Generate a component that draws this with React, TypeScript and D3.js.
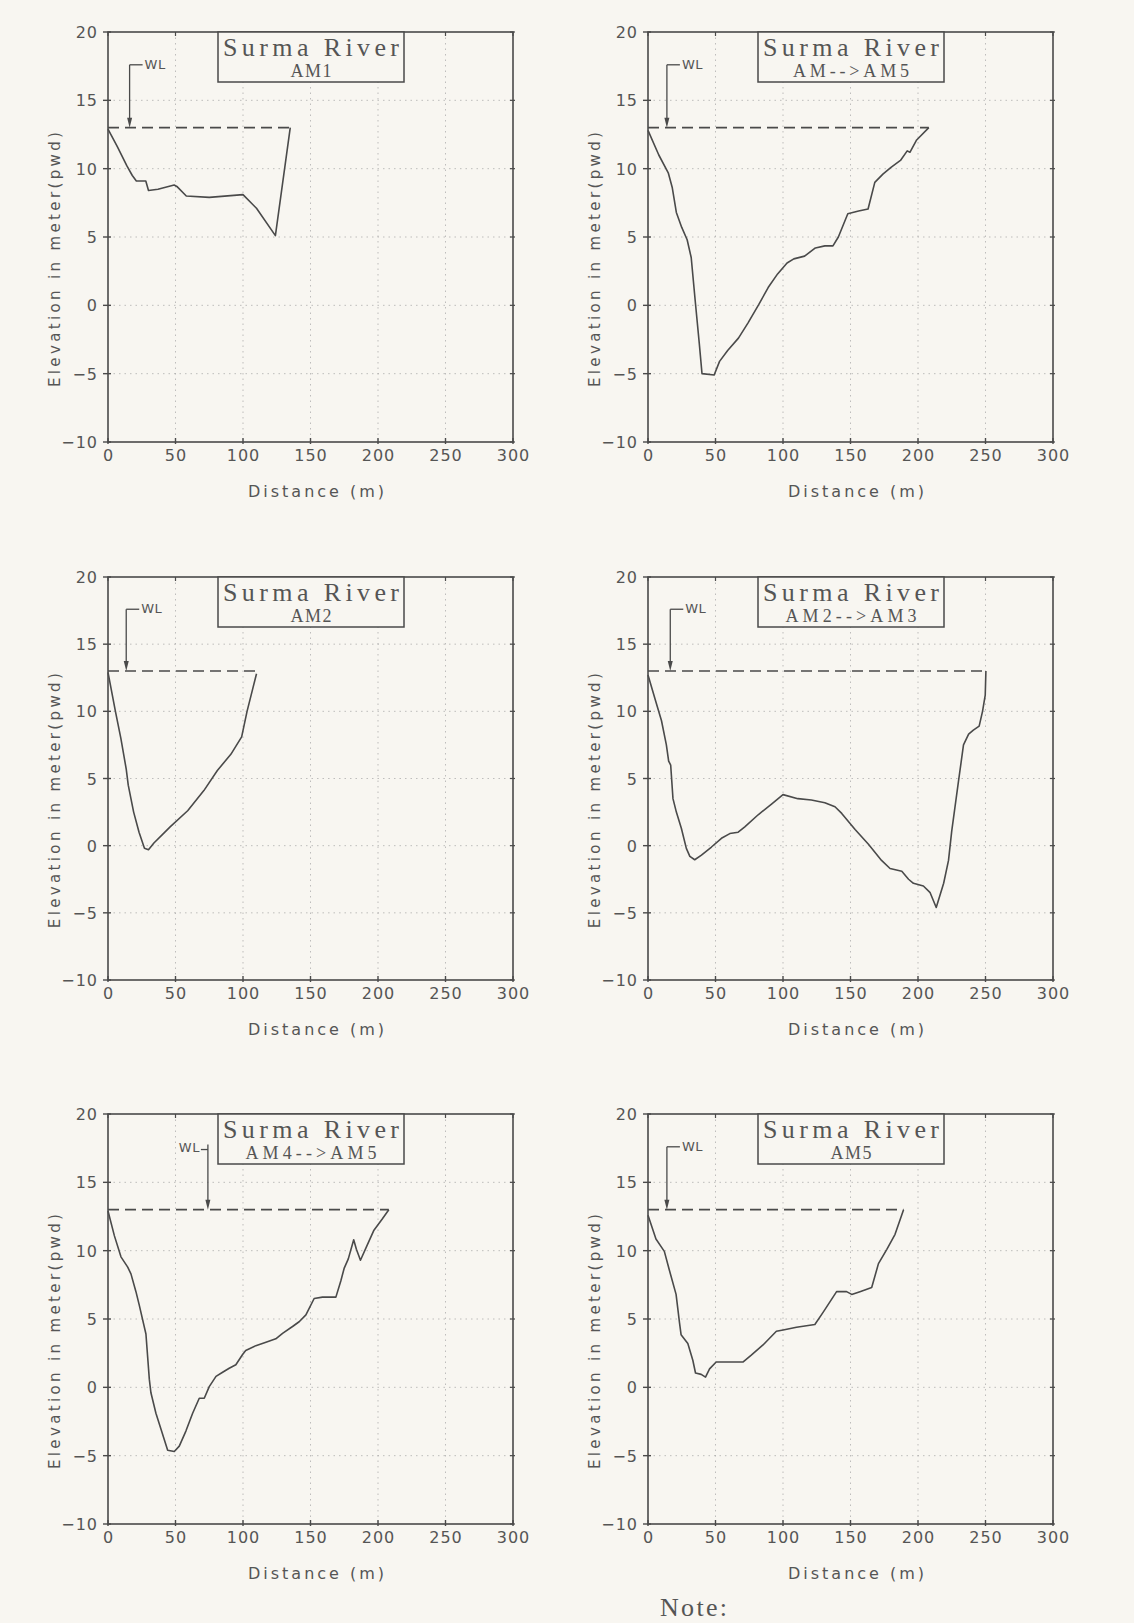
import React from 'react';
import * as d3 from 'd3';

// axis ticks shared by all six cross sections
const xTicks = [0, 50, 100, 150, 200, 250, 300];
const yTicks = [-10, -5, 0, 5, 10, 15, 20];

const riverName = 'Surma River';
const sectionNames = ['AM1', 'AM-->AM5', 'AM2', 'AM2-->AM3', 'AM4-->AM5', 'AM5'];
const wlLevel = 13;
const wlArrowX = [16, 14, 13.5, 16.5, 74, 14];
const wlLabelElev = [17.6, 17.6, 17.6, 17.6, 17.4, 17.6];

// distance (m) / elevation (m, pwd)
const am1Dist = [0, 7, 14, 18, 21, 28, 30, 37, 49, 51, 58, 75, 100, 110, 124, 135];
const am1Elev = [12.9, 11.6, 10.2, 9.5, 9.1, 9.1, 8.4, 8.5, 8.8, 8.7, 8.0, 7.9, 8.1, 7.1, 5.1, 13.0];

const amAm5Dist = [0, 8, 15, 18, 21, 25, 29, 32, 35, 38, 40, 49, 53, 59, 67, 74, 82, 89, 96, 103, 108, 116, 124, 131, 137, 141, 148, 156, 163, 168, 174, 180, 187, 192, 194, 199, 208];
const amAm5Elev = [12.8, 11.0, 9.7, 8.6, 6.8, 5.7, 4.8, 3.5, 0.3, -2.8, -5.0, -5.1, -4.1, -3.3, -2.4, -1.3, 0.05, 1.3, 2.3, 3.1, 3.4, 3.6, 4.2, 4.35, 4.35, 5.0, 6.7, 6.9, 7.05, 9.0, 9.6, 10.1, 10.6, 11.3, 11.2, 12.1, 13.0];

const am2Dist = [0, 5.5, 9.5, 13.5, 15, 19, 23, 27, 30, 34, 41, 46, 59, 71, 81, 91, 99, 103, 107, 110];
const am2Elev = [12.9, 10.0, 8.0, 5.7, 4.5, 2.5, 1.0, -0.2, -0.3, 0.2, 0.9, 1.4, 2.6, 4.1, 5.6, 6.8, 8.1, 10.0, 11.6, 12.8];

const am2Am3Dist = [0, 5, 10, 13.6, 15.3, 16.8, 18.5, 21, 24.7, 28.4, 31, 34.6, 39.6, 47, 54.4, 60.6, 66.8, 71.7, 81.6, 91.5, 100, 111, 121, 131, 138.5, 143.5, 153.4, 163.3, 173, 179.3, 188, 193, 196.6, 204, 209, 213.5, 219, 222.6, 225, 230, 233.7, 237.5, 241, 245.3, 247.8, 249.8, 250.3];
const am2Am3Elev = [12.7, 11.0, 9.3, 7.5, 6.3, 6.0, 3.5, 2.5, 1.3, -0.2, -0.8, -1.05, -0.7, -0.1, 0.55, 0.9, 1.0, 1.4, 2.3, 3.1, 3.8, 3.5, 3.4, 3.2, 2.9, 2.4, 1.2, 0.1, -1.1, -1.7, -1.9, -2.5, -2.8, -3.0, -3.5, -4.6, -2.8, -1.1, 1.1, 4.8, 7.5, 8.3, 8.6, 8.9, 10.0, 11.2, 13.0];

const am4Am5Dist = [0, 4.7, 9.6, 14.6, 17, 20.7, 23.2, 28.1, 30.6, 31.8, 35.5, 40.5, 44.2, 49.1, 52.8, 57.7, 62.7, 67.6, 71.3, 75, 80, 84.9, 89.8, 94.7, 99.7, 102, 109.5, 117, 124.3, 129.3, 136.7, 141.6, 146.6, 152.7, 158.9, 168.8, 172.5, 174.9, 178, 182, 184, 187, 192, 197, 203, 208];
const am4Am5Elev = [12.9, 11.1, 9.55, 8.8, 8.3, 7.0, 6.0, 3.9, 0.6, -0.4, -1.9, -3.45, -4.6, -4.7, -4.3, -3.2, -1.9, -0.8, -0.8, 0.05, 0.8, 1.1, 1.4, 1.65, 2.4, 2.7, 3.05, 3.3, 3.55, 3.95, 4.45, 4.8, 5.3, 6.5, 6.6, 6.6, 7.8, 8.7, 9.4, 10.8, 10.1, 9.3, 10.4, 11.5, 12.3, 13.0];

const am5Dist = [0, 5.9, 12.1, 15.9, 20.8, 23.3, 24.5, 29.5, 33.2, 35.2, 39.4, 42.6, 45.6, 50.5, 60.4, 70.3, 76.5, 85.2, 95.1, 100.1, 110, 123.6, 129.8, 139.7, 147.1, 150.9, 157, 165.7, 170.7, 176.9, 183, 189.3];
const am5Elev = [12.6, 10.85, 9.95, 8.55, 6.8, 4.75, 3.85, 3.2, 1.98, 1.05, 0.95, 0.75, 1.35, 1.85, 1.85, 1.85, 2.35, 3.1, 4.1, 4.2, 4.4, 4.6, 5.5, 7.0, 7.0, 6.8, 7.0, 7.3, 9.05, 10.1, 11.2, 13.0];

const profiles = [
  [am1Dist, am1Elev],
  [amAm5Dist, amAm5Elev],
  [am2Dist, am2Elev],
  [am2Am3Dist, am2Am3Elev],
  [am4Am5Dist, am4Am5Elev],
  [am5Dist, am5Elev],
];

const BG = '#f8f6f1';
const INK = '#4a4a4a';
const TEXT = '#555555';

const fmt = (v: number) => (v < 0 ? '\u2212' + Math.abs(v) : String(v));

function Panel({ idx, left, top, w, h }: { idx: number; left: number; top: number; w: number; h: number }) {
  const [dist, elev] = profiles[idx];
  const x = d3.scaleLinear().domain([0, 300]).range([left, left + w]);
  const y = d3.scaleLinear().domain([-10, 20]).range([top + h, top]);
  const pts = dist.map((d, i) => [d, elev[i]] as [number, number]);
  const line = d3.line<[number, number]>().x((d) => x(d[0])).y((d) => y(d[1]));
  const lastX = dist[dist.length - 1];

  const ax = x(wlArrowX[idx]);
  const ly = y(wlLabelElev[idx]);
  const wy = y(wlLevel);
  const labelLeft = idx === 4;

  const name = sectionNames[idx];
  const boxX = left + 110;
  const boxW = 186;
  const boxH = 50;
  const cx = boxX + boxW / 2;

  return (
    <g>
      {/* grid */}
      {xTicks.slice(1, -1).map((t) => (
        <line key={'gx' + t} x1={x(t)} x2={x(t)} y1={top} y2={top + h} stroke="#a0a0a0" strokeWidth={1} strokeDasharray="1.5 4" opacity={0.65} />
      ))}
      {yTicks.slice(1, -1).map((t) => (
        <line key={'gy' + t} x1={left} x2={left + w} y1={y(t)} y2={y(t)} stroke="#a0a0a0" strokeWidth={1} strokeDasharray="1.5 4" opacity={0.65} />
      ))}

      {/* frame */}
      <rect x={left} y={top} width={w} height={h} fill="none" stroke={INK} strokeWidth={1.6} />

      {/* ticks */}
      {xTicks.map((t) => (
        <g key={'tx' + t}>
          <line x1={x(t)} x2={x(t)} y1={top + h - 4} y2={top + h + 2} stroke={INK} strokeWidth={1.4} />
          <line x1={x(t)} x2={x(t)} y1={top} y2={top + 4} stroke={INK} strokeWidth={1.2} />
          <text x={x(t) + 0.5} y={top + h + 19} textAnchor="middle" fontFamily="DejaVu Sans" fontSize={16} letterSpacing={1} fill={TEXT}>
            {fmt(t)}
          </text>
        </g>
      ))}
      {yTicks.map((t) => (
        <g key={'ty' + t}>
          <line x1={left - 5} x2={left + 3} y1={y(t)} y2={y(t)} stroke={INK} strokeWidth={1.4} />
          <line x1={left + w - 3} x2={left + w + 2} y1={y(t)} y2={y(t)} stroke={INK} strokeWidth={1.2} />
          <text x={left - 10} y={y(t) + 6} textAnchor="end" fontFamily="DejaVu Sans" fontSize={16} letterSpacing={1} fill={TEXT}>
            {fmt(t)}
          </text>
        </g>
      ))}

      {/* axis titles */}
      <text x={left + 208} y={top + h + 55} textAnchor="middle" fontFamily="DejaVu Sans" fontSize={16} textLength={136} lengthAdjust="spacing" fill={TEXT}>
        Distance (m)
      </text>
      <text
        transform={`translate(${left - 48},${top + h * 0.555}) rotate(-90)`}
        textAnchor="middle"
        fontFamily="DejaVu Sans"
        fontSize={15}
        textLength={255}
        lengthAdjust="spacing"
        fill={TEXT}
      >
        Elevation in meter(pwd)
      </text>

      {/* title box */}
      <rect x={boxX} y={top} width={boxW} height={boxH} fill={BG} stroke={INK} strokeWidth={1.5} />
      <text x={cx} y={top + 24} textAnchor="middle" fontFamily="Liberation Serif" fontSize={26} textLength={176} lengthAdjust="spacing" fill={TEXT}>
        {riverName}
      </text>
      <text x={cx} y={top + 45} textAnchor="middle" fontFamily="Liberation Serif" fontSize={18} textLength={15 * name.length - 4} lengthAdjust="spacing" fill={TEXT}>
        {name}
      </text>

      {/* water level */}
      <line x1={x(0)} x2={x(lastX)} y1={wy} y2={wy} stroke={INK} strokeWidth={1.6} strokeDasharray="11 6" />
      <line x1={ax} x2={ax} y1={ly - (labelLeft ? 5 : 0)} y2={wy - 8} stroke={INK} strokeWidth={1.3} />
      <path d={`M${ax - 2.5},${wy - 10}L${ax + 2.5},${wy - 10}L${ax},${wy}Z`} fill={INK} />
      {labelLeft ? (
        <g>
          <line x1={ax - 7} x2={ax} y1={ly} y2={ly} stroke={INK} strokeWidth={1.3} />
          <text x={ax - 8} y={ly + 2} textAnchor="end" fontFamily="DejaVu Sans" fontSize={13} letterSpacing={0.5} fill={TEXT}>
            WL
          </text>
        </g>
      ) : (
        <g>
          <line x1={ax} x2={ax + 13} y1={ly} y2={ly} stroke={INK} strokeWidth={1.3} />
          <text x={ax + 15} y={ly + 4} fontFamily="DejaVu Sans" fontSize={13} letterSpacing={0.5} fill={TEXT}>
            WL
          </text>
        </g>
      )}

      {/* bed profile */}
      <path d={line(pts) || ''} fill="none" stroke={INK} strokeWidth={1.6} strokeLinejoin="round" />
    </g>
  );
}

export default function App() {
  const colLeft = [108, 648];
  const rowTop = [32, 577, 1114];
  const rowH = [410, 403, 410];
  const plotW = 405;

  return (
    <svg width={1134} height={1623} style={{ position: 'absolute', left: 0, top: 0, display: 'block' }}>
      <rect width={1134} height={1623} fill={BG} />
      {sectionNames.map((_, i) => (
        <Panel key={i} idx={i} left={colLeft[i % 2]} top={rowTop[Math.floor(i / 2)]} w={plotW} h={rowH[Math.floor(i / 2)]} />
      ))}
      <text x={660} y={1616} fontFamily="Liberation Serif" fontSize={26} textLength={67} lengthAdjust="spacing" fill={TEXT}>
        Note:
      </text>
    </svg>
  );
}
